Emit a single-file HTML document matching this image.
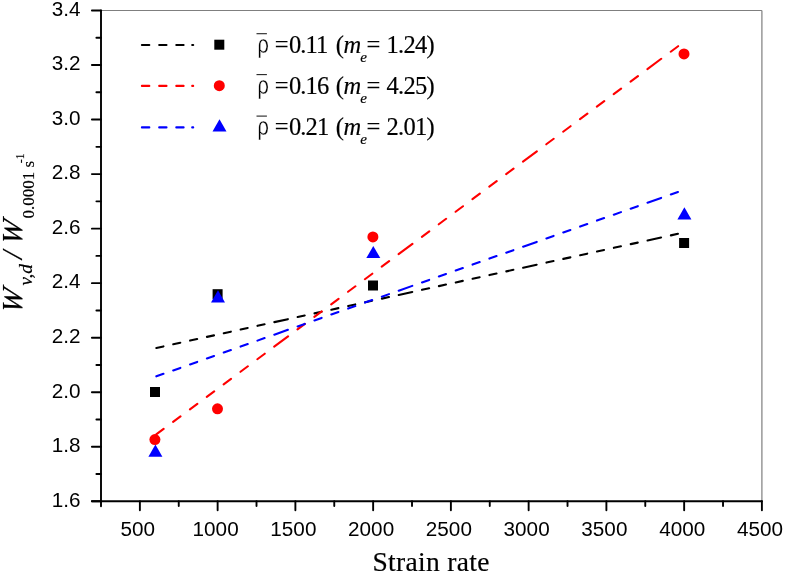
<!DOCTYPE html>
<html><head><meta charset="utf-8"><title>chart</title>
<style>html,body{margin:0;padding:0;background:#fff;}svg{display:block;}text{font-family:"Liberation Sans",sans-serif;fill:#000;}.s{font-family:"Liberation Serif",serif;stroke:#000;stroke-width:0.18px;}svg{will-change:transform;}</style></head><body>
<svg width="785" height="575" viewBox="0 0 785 575">
<rect width="785" height="575" fill="#fff"/>
<line x1="101.0" y1="10.5" x2="761.9" y2="10.5" stroke="#7f7f7f" stroke-width="1.2"/>
<line x1="761.9" y1="10.5" x2="761.9" y2="501.3" stroke="#7f7f7f" stroke-width="1.2"/>
<g stroke="#000" stroke-width="1.9" stroke-linecap="round">
<line x1="101.0" y1="10.5" x2="101.0" y2="506.3"/>
<line x1="91.9" y1="501.3" x2="761.9" y2="501.3"/>
<line x1="91.9" y1="501.30" x2="101.0" y2="501.30"/>
<line x1="96.4" y1="474.03" x2="101.0" y2="474.03"/>
<line x1="91.9" y1="446.77" x2="101.0" y2="446.77"/>
<line x1="96.4" y1="419.50" x2="101.0" y2="419.50"/>
<line x1="91.9" y1="392.23" x2="101.0" y2="392.23"/>
<line x1="96.4" y1="364.97" x2="101.0" y2="364.97"/>
<line x1="91.9" y1="337.70" x2="101.0" y2="337.70"/>
<line x1="96.4" y1="310.43" x2="101.0" y2="310.43"/>
<line x1="91.9" y1="283.17" x2="101.0" y2="283.17"/>
<line x1="96.4" y1="255.90" x2="101.0" y2="255.90"/>
<line x1="91.9" y1="228.63" x2="101.0" y2="228.63"/>
<line x1="96.4" y1="201.37" x2="101.0" y2="201.37"/>
<line x1="91.9" y1="174.10" x2="101.0" y2="174.10"/>
<line x1="96.4" y1="146.83" x2="101.0" y2="146.83"/>
<line x1="91.9" y1="119.57" x2="101.0" y2="119.57"/>
<line x1="96.4" y1="92.30" x2="101.0" y2="92.30"/>
<line x1="91.9" y1="65.03" x2="101.0" y2="65.03"/>
<line x1="96.4" y1="37.77" x2="101.0" y2="37.77"/>
<line x1="91.9" y1="10.50" x2="101.0" y2="10.50"/>
<line x1="139.88" y1="501.3" x2="139.88" y2="510.3"/>
<line x1="178.75" y1="501.3" x2="178.75" y2="506.1"/>
<line x1="217.63" y1="501.3" x2="217.63" y2="510.3"/>
<line x1="256.51" y1="501.3" x2="256.51" y2="506.1"/>
<line x1="295.38" y1="501.3" x2="295.38" y2="510.3"/>
<line x1="334.26" y1="501.3" x2="334.26" y2="506.1"/>
<line x1="373.14" y1="501.3" x2="373.14" y2="510.3"/>
<line x1="412.01" y1="501.3" x2="412.01" y2="506.1"/>
<line x1="450.89" y1="501.3" x2="450.89" y2="510.3"/>
<line x1="489.76" y1="501.3" x2="489.76" y2="506.1"/>
<line x1="528.64" y1="501.3" x2="528.64" y2="510.3"/>
<line x1="567.52" y1="501.3" x2="567.52" y2="506.1"/>
<line x1="606.39" y1="501.3" x2="606.39" y2="510.3"/>
<line x1="645.27" y1="501.3" x2="645.27" y2="506.1"/>
<line x1="684.15" y1="501.3" x2="684.15" y2="510.3"/>
<line x1="723.02" y1="501.3" x2="723.02" y2="506.1"/>
<line x1="761.90" y1="501.3" x2="761.90" y2="510.3"/>
</g>
<g font-size="20.7px">
<text x="80.5" y="506.60" text-anchor="end">1.6</text>
<text x="80.5" y="452.07" text-anchor="end">1.8</text>
<text x="80.5" y="397.53" text-anchor="end">2.0</text>
<text x="80.5" y="343.00" text-anchor="end">2.2</text>
<text x="80.5" y="288.47" text-anchor="end">2.4</text>
<text x="80.5" y="233.93" text-anchor="end">2.6</text>
<text x="80.5" y="179.40" text-anchor="end">2.8</text>
<text x="80.5" y="124.87" text-anchor="end">3.0</text>
<text x="80.5" y="70.33" text-anchor="end">3.2</text>
<text x="80.5" y="15.80" text-anchor="end">3.4</text>
<text x="137.88" y="535.5" text-anchor="middle">500</text>
<text x="215.63" y="535.5" text-anchor="middle">1000</text>
<text x="293.38" y="535.5" text-anchor="middle">1500</text>
<text x="371.14" y="535.5" text-anchor="middle">2000</text>
<text x="448.89" y="535.5" text-anchor="middle">2500</text>
<text x="526.64" y="535.5" text-anchor="middle">3000</text>
<text x="604.39" y="535.5" text-anchor="middle">3500</text>
<text x="682.15" y="535.5" text-anchor="middle">4000</text>
<text x="759.90" y="535.5" text-anchor="middle">4500</text>
</g>
<text class="s" x="431.1" y="570.7" font-size="27.5px" text-anchor="middle" letter-spacing="0.32">Strain rate</text>
<g transform="translate(21.7,309) rotate(-90)" class="s"><text class="s" transform="translate(-5.300000000000001,0) skewX(-10)" x="0" y="0" font-size="29px" font-style="italic">W</text><text class="s" x="23.4" y="10.2" font-size="19.2px" font-style="italic" letter-spacing="0">v,d</text><text class="s" x="50.0" y="0" font-size="30px" font-style="italic">/</text><text class="s" transform="translate(63.3,0) skewX(-10)" x="0" y="0" font-size="29px" font-style="italic">W</text><text class="s" x="90.6" y="12.0" font-size="17px">0.0001 s</text><text class="s" x="145.8" y="1.8" font-size="11.5px">-1</text></g>
<path d="M156.40,347.96L163.45,346.41M173.25,344.27L180.30,342.73M190.10,340.58L197.15,339.04M206.95,336.89L214.00,335.35M223.80,333.20L230.85,331.66M240.65,329.52L247.70,327.97M257.50,325.83L264.55,324.29M274.35,322.14L287.85,319.19M297.66,317.04L304.70,315.50M314.51,313.35L321.55,311.81M331.36,309.66L338.40,308.12M348.21,305.98L355.25,304.43M365.06,302.29L372.10,300.75M381.91,298.60L388.95,297.06M398.76,294.91L412.26,291.96M422.06,289.81L429.11,288.27M438.91,286.12L445.96,284.58M455.76,282.44L462.81,280.89M472.61,278.75L479.66,277.21M489.46,275.06L496.51,273.52M506.31,271.37L513.36,269.83M523.16,267.68L536.66,264.73M546.47,262.58L553.51,261.04M563.32,258.90L570.36,257.35M580.17,255.21L587.21,253.67M597.02,251.52L604.06,249.98M613.87,247.83L620.91,246.29M630.72,244.14L637.76,242.60M647.57,240.46L661.07,237.50M670.87,235.36L677.92,233.81" stroke="#000" stroke-width="2.1" stroke-linecap="round" fill="none"/>
<path d="M156.23,434.45L163.62,428.94M173.08,421.91L180.47,416.41M189.93,409.38L197.32,403.87M206.78,396.84L214.17,391.34M223.63,384.31L231.02,378.80M240.48,371.77L247.87,366.27M257.33,359.24L264.72,353.73M274.18,346.70L288.03,336.40M297.48,329.36L304.88,323.86M314.33,316.83L321.73,311.33M331.18,304.29L338.58,298.79M348.03,291.76L355.43,286.26M364.88,279.22L372.28,273.72M381.73,266.69L389.13,261.19M398.58,254.15L412.43,243.85M421.89,236.82L429.28,231.32M438.74,224.28L446.13,218.78M455.59,211.75L462.98,206.25M472.44,199.21L479.83,193.71M489.29,186.68L496.68,181.18M506.14,174.14L513.53,168.64M522.99,161.61L536.84,151.30M546.29,144.27L553.69,138.77M563.14,131.74L570.54,126.23M579.99,119.20L587.39,113.70M596.84,106.67L604.24,101.17M613.69,94.13L621.09,88.63M630.54,81.60L637.94,76.10M647.39,69.06L661.24,58.76M670.70,51.73L678.09,46.22" stroke="#ff0000" stroke-width="2.1" stroke-linecap="round" fill="none"/>
<path d="M156.37,376.36L163.48,373.84M173.22,370.40L180.33,367.89M190.07,364.44L197.18,361.93M206.92,358.49L214.03,355.97M223.77,352.53L230.88,350.02M240.62,346.57L247.73,344.06M257.47,340.62L264.58,338.10M274.32,334.66L287.89,329.86M297.62,326.42L304.74,323.91M314.47,320.46L321.59,317.95M331.32,314.51L338.44,311.99M348.17,308.55L355.29,306.04M365.02,302.59L372.14,300.08M381.87,296.64L388.99,294.12M398.72,290.68L412.29,285.88M422.03,282.44L429.14,279.93M438.88,276.49L445.99,273.97M455.73,270.53L462.84,268.01M472.58,264.57L479.69,262.06M489.43,258.61L496.54,256.10M506.28,252.66L513.39,250.14M523.13,246.70L536.70,241.90M546.43,238.46L553.55,235.95M563.28,232.51L570.40,229.99M580.13,226.55L587.25,224.03M596.98,220.59L604.10,218.08M613.83,214.64L620.95,212.12M630.68,208.68L637.80,206.16M647.53,202.72L661.10,197.92M670.84,194.48L677.95,191.97" stroke="#0000ff" stroke-width="2.1" stroke-linecap="round" fill="none"/>
<rect x="150.00" y="387.00" width="10" height="10" fill="#000"/>
<rect x="212.60" y="289.20" width="10" height="10" fill="#000"/>
<rect x="368.00" y="280.50" width="10" height="10" fill="#000"/>
<rect x="679.10" y="238.00" width="10" height="10" fill="#000"/>
<circle cx="154.90" cy="439.60" r="5.5" fill="#ff0000"/>
<circle cx="217.50" cy="408.80" r="5.5" fill="#ff0000"/>
<circle cx="372.90" cy="236.90" r="5.5" fill="#ff0000"/>
<circle cx="684.00" cy="53.90" r="5.5" fill="#ff0000"/>
<polygon points="155.40,444.50 148.40,456.70 162.40,456.70" fill="#0000ff"/>
<polygon points="218.00,290.25 211.00,302.45 225.00,302.45" fill="#0000ff"/>
<polygon points="373.30,245.90 366.30,258.10 380.30,258.10" fill="#0000ff"/>
<polygon points="684.40,207.30 677.40,219.50 691.40,219.50" fill="#0000ff"/>
<path d="M141.9,45.0H149.3M159.2,45.0H166.5M176.3,45.0H183.6M192.2,45.0H193.2" stroke="#000" stroke-width="2.1" stroke-linecap="round" fill="none"/>
<rect x="214.30" y="39.70" width="10" height="10" fill="#000"/>
<line x1="256.5" y1="33.70" x2="266.9" y2="33.70" stroke="#222" stroke-width="1.1"/>
<text x="0" y="0" font-size="25px" stroke="#fff" stroke-width="0.35" transform="translate(257.6,53.00) scale(0.8,1)">ρ</text>
<text class="s" y="53.00" font-size="24.5px"><tspan x="274.8">=</tspan><tspan x="289.0" letter-spacing="-0.9">0.11</tspan><tspan x="335.7">(</tspan><tspan x="343.6" font-style="italic">m</tspan><tspan x="360.3" font-style="italic" font-size="15px" dy="8.8">e</tspan><tspan x="366.5" dy="-8.8">=</tspan><tspan x="386.6" letter-spacing="-0.75">1.24)</tspan></text>
<path d="M141.9,85.9H149.3M159.2,85.9H166.5M176.3,85.9H183.6M192.2,85.9H193.2" stroke="#ff0000" stroke-width="2.1" stroke-linecap="round" fill="none"/>
<circle cx="219.30" cy="85.70" r="5.5" fill="#ff0000"/>
<line x1="256.5" y1="74.60" x2="266.9" y2="74.60" stroke="#222" stroke-width="1.1"/>
<text x="0" y="0" font-size="25px" stroke="#fff" stroke-width="0.35" transform="translate(257.6,93.90) scale(0.8,1)">ρ</text>
<text class="s" y="93.90" font-size="24.5px"><tspan x="274.8">=</tspan><tspan x="289.0" letter-spacing="-0.9">0.16</tspan><tspan x="335.7">(</tspan><tspan x="343.6" font-style="italic">m</tspan><tspan x="360.3" font-style="italic" font-size="15px" dy="8.8">e</tspan><tspan x="366.5" dy="-8.8">=</tspan><tspan x="386.6" letter-spacing="-0.75">4.25)</tspan></text>
<path d="M141.9,127.4H149.3M159.2,127.4H166.5M176.3,127.4H183.6M192.2,127.4H193.2" stroke="#0000ff" stroke-width="2.1" stroke-linecap="round" fill="none"/>
<polygon points="219.50,119.30 212.50,131.50 226.50,131.50" fill="#0000ff"/>
<line x1="256.5" y1="116.10" x2="266.9" y2="116.10" stroke="#222" stroke-width="1.1"/>
<text x="0" y="0" font-size="25px" stroke="#fff" stroke-width="0.35" transform="translate(257.6,135.40) scale(0.8,1)">ρ</text>
<text class="s" y="135.40" font-size="24.5px"><tspan x="274.8">=</tspan><tspan x="289.0" letter-spacing="-0.9">0.21</tspan><tspan x="335.7">(</tspan><tspan x="343.6" font-style="italic">m</tspan><tspan x="360.3" font-style="italic" font-size="15px" dy="8.8">e</tspan><tspan x="366.5" dy="-8.8">=</tspan><tspan x="386.6" letter-spacing="-0.75">2.01)</tspan></text>
</svg></body></html>
